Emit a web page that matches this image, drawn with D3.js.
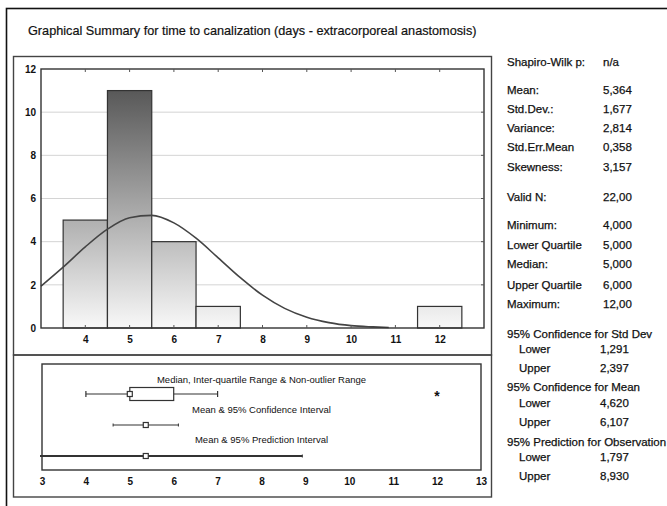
<!DOCTYPE html>
<html><head><meta charset="utf-8">
<script src="https://cdn.jsdelivr.net/npm/d3@7"></script>
<style>
html,body{margin:0;padding:0;background:#fff;}
text{font-family:"Liberation Sans",Arial,sans-serif;fill:#111;}
</style></head><body>
<svg id="c" width="667" height="506"></svg>
<script>
// ---- data ----
const title = "Graphical Summary for time to canalization (days - extracorporeal anastomosis)";
const binCenters = [4, 5, 6, 7, 12];
const binCounts = [5, 11, 4, 1, 1];
const binWidth = 1;
const curveX = [3, 3.5, 4, 4.5, 5, 5.5, 6, 6.5, 7, 7.5, 8, 8.5, 9, 9.5, 10, 10.5, 10.85];
const curveY = [1.94, 2.82, 3.76, 4.58, 5.11, 5.22, 4.87, 4.16, 3.25, 2.33, 1.52, 0.91, 0.50, 0.25, 0.11, 0.05, 0.02];
const yTicks = [0, 2, 4, 6, 8, 10, 12];
const histXTicks = [4, 5, 6, 7, 8, 9, 10, 11, 12];
const boxXTicks = [3, 4, 5, 6, 7, 8, 9, 10, 11, 12, 13];
const boxStats = {min: 4, q1: 5, median: 5, q3: 6, max: 7};
const outliers = [12];
const meanVal = 5.364;
const ciMean = [4.620, 6.107];
const piObs = [1.797, 8.930];
const intervalLabels = ["Median, Inter-quartile Range & Non-outlier Range", "Mean & 95% Confidence Interval", "Mean & 95% Prediction Interval"];
const statLabels = ["Shapiro-Wilk p:", "Mean:", "Std.Dev.:", "Variance:", "Std.Err.Mean", "Skewness:", "Valid N:", "Minimum:", "Lower Quartile", "Median:", "Upper Quartile", "Maximum:"];
const statValues = ["n/a", "5,364", "1,677", "2,814", "0,358", "3,157", "22,00", "4,000", "5,000", "5,000", "6,000", "12,00"];
const ciHeaders = ["95% Confidence for Std Dev", "95% Confidence for Mean", "95% Prediction for Observation"];
const ciSubLabels = ["Lower", "Upper"];
const ciValues = [["1,291", "2,397"], ["4,620", "6,107"], ["1,797", "8,930"]];

// ---- layout ----
const svg = d3.select("#c");
const H = {l: 41, r: 484, t: 69, b: 328};
const B = {l: 42, r: 481, t: 364, b: 470};

// outer frame
svg.append("rect").attr("x", 6.5).attr("y", 8.5).attr("width", 700).attr("height", 600)
  .attr("fill", "none").attr("stroke", "#111").attr("stroke-width", 1.6);
svg.append("text").attr("x", 28).attr("y", 35).attr("font-size", 12.7)
  .attr("stroke", "#111").attr("stroke-width", 0.2).text(title);

// panels
svg.append("rect").attr("x", 13.5).attr("y", 56.5).attr("width", 478).attr("height", 298.5)
  .attr("fill", "none").attr("stroke", "#444").attr("stroke-width", 1.4);
svg.append("rect").attr("x", 13.5).attr("y", 355).attr("width", 478).attr("height", 142)
  .attr("fill", "none").attr("stroke", "#444").attr("stroke-width", 1.4);

// ---- histogram ----
const x = d3.scaleLinear().domain([3, 13]).range([H.l, H.r]);
const y = d3.scaleLinear().domain([0, 12]).range([H.b, H.t]);

const defs = svg.append("defs");
const grad = defs.append("linearGradient").attr("id", "g").attr("gradientUnits", "userSpaceOnUse")
  .attr("x1", 0).attr("x2", 0).attr("y1", y(12)).attr("y2", y(0));
grad.append("stop").attr("offset", 0).attr("stop-color", "#4a4a4a");
grad.append("stop").attr("offset", 1).attr("stop-color", "#f8f8f8");

const gh = svg.append("g");
// grid
gh.selectAll("line.grid").data(yTicks.filter(d => d > 0 && d < 12)).join("line")
  .attr("x1", H.l).attr("x2", H.r).attr("y1", d => y(d)).attr("y2", d => y(d))
  .attr("stroke", "#d4d4d4").attr("stroke-width", 1);

// bars
gh.selectAll("rect.bar").data(binCenters).join("rect")
  .attr("x", (d) => x(d - binWidth / 2))
  .attr("width", (d) => x(d + binWidth / 2) - x(d - binWidth / 2))
  .attr("y", (d, i) => y(binCounts[i]))
  .attr("height", (d, i) => y(0) - y(binCounts[i]))
  .attr("fill", "url(#g)").attr("stroke", "#333").attr("stroke-width", 1.2);

// normal curve
const line = d3.line().x((d, i) => x(curveX[i])).y(d => y(d)).curve(d3.curveMonotoneX);
gh.append("path").attr("d", line(curveY)).attr("fill", "none").attr("stroke", "#444").attr("stroke-width", 1.6);

// frame
gh.append("rect").attr("x", H.l).attr("y", H.t).attr("width", H.r - H.l).attr("height", H.b - H.t)
  .attr("fill", "none").attr("stroke", "#333").attr("stroke-width", 1.4);

const tickFont = sel => sel.attr("font-size", 10).attr("font-weight", "bold")
  .attr("font-family", "Liberation Sans, Arial, sans-serif").attr("fill", "#222");
// axes
const ya = gh.append("g").attr("transform", `translate(${H.l},0)`)
  .call(d3.axisLeft(y).tickValues(yTicks).tickSize(0).tickPadding(5));
ya.select(".domain").remove();
ya.selectAll("text").call(tickFont);
gh.selectAll("line.rt").data(yTicks.filter(d => d > 0 && d < 12)).join("line")
  .attr("x1", H.r - 3).attr("x2", H.r).attr("y1", d => y(d)).attr("y2", d => y(d)).attr("stroke", "#555");
const xa = gh.append("g").attr("transform", `translate(0,${H.b})`)
  .call(d3.axisBottom(x).tickValues(histXTicks).tickSize(0).tickPadding(8));
xa.select(".domain").remove();
xa.selectAll("text").call(tickFont);
gh.selectAll("line.tt").data(histXTicks).join("line")
  .attr("x1", d => x(d)).attr("x2", d => x(d)).attr("y1", H.t).attr("y2", H.t + 3).attr("stroke", "#555");
gh.selectAll("line.bt").data(histXTicks).join("line")
  .attr("x1", d => x(d)).attr("x2", d => x(d)).attr("y1", H.b).attr("y2", H.b - 3).attr("stroke", "#555");

// ---- interval plot ----
const xb = d3.scaleLinear().domain([3, 13]).range([B.l, B.r]);
const gb = svg.append("g");
defs.append("clipPath").attr("id", "bc").append("rect").attr("x", B.l - 2).attr("y", B.t).attr("width", B.r - B.l + 4).attr("height", B.b - B.t);
gb.append("rect").attr("x", B.l).attr("y", B.t).attr("width", B.r - B.l).attr("height", B.b - B.t)
  .attr("fill", "none").attr("stroke", "#333").attr("stroke-width", 1.4);
const xba = gb.append("g").attr("transform", `translate(0,${B.b})`)
  .call(d3.axisBottom(xb).tickValues(boxXTicks).tickSize(0).tickPadding(8));
xba.select(".domain").remove();
xba.selectAll("text").call(tickFont);

const labelX = xb(8);
const rowY = [394, 425, 456];
const labY = [382.5, 412.5, 442.5];
intervalLabels.forEach((t, i) => {
  gb.append("text").attr("x", labelX).attr("y", labY[i]).attr("text-anchor", "middle").attr("font-size", 9.5).text(t);
});
const ink = "#333";
// box plot
gb.append("line").attr("x1", xb(boxStats.min)).attr("x2", xb(boxStats.q1)).attr("y1", rowY[0]).attr("y2", rowY[0]).attr("stroke", ink).attr("stroke-width", 1.2);
gb.append("line").attr("x1", xb(boxStats.q3)).attr("x2", xb(boxStats.max)).attr("y1", rowY[0]).attr("y2", rowY[0]).attr("stroke", ink).attr("stroke-width", 1.2);
[boxStats.min, boxStats.max].forEach(v => gb.append("line").attr("x1", xb(v)).attr("x2", xb(v)).attr("y1", rowY[0] - 3).attr("y2", rowY[0] + 3).attr("stroke", ink).attr("stroke-width", 1.2));
gb.append("rect").attr("x", xb(boxStats.q1)).attr("y", rowY[0] - 6.5).attr("width", xb(boxStats.q3) - xb(boxStats.q1)).attr("height", 13)
  .attr("fill", "#fff").attr("stroke", ink).attr("stroke-width", 1.2);
gb.append("rect").attr("x", xb(boxStats.median) - 2.5).attr("y", rowY[0] - 2.5).attr("width", 5).attr("height", 5)
  .attr("fill", "#fff").attr("stroke", ink).attr("stroke-width", 1.2);
outliers.forEach(v => gb.append("text").attr("x", xb(v)).attr("y", rowY[0] + 7).attr("text-anchor", "middle").attr("font-size", 14).attr("font-weight", "bold").text("*"));
// mean intervals
const cg = gb.append("g").attr("clip-path", "url(#bc)");
[[ciMean, 1], [piObs, 2]].forEach(([iv, k]) => {
  cg.append("line").attr("x1", xb(iv[0])).attr("x2", xb(iv[1])).attr("y1", rowY[k]).attr("y2", rowY[k]).attr("stroke", ink).attr("stroke-width", k === 2 ? 1.8 : 1.2);
  iv.forEach(v => cg.append("line").attr("x1", xb(v)).attr("x2", xb(v)).attr("y1", rowY[k] - 1.5).attr("y2", rowY[k] + 1.5).attr("stroke", ink));
  cg.append("rect").attr("x", xb(meanVal) - 2.5).attr("y", rowY[k] - 2.5).attr("width", 5).attr("height", 5)
    .attr("fill", "#fff").attr("stroke", ink).attr("stroke-width", 1.2);
});

// ---- stats ----
const gs = svg.append("g").attr("font-size", 11.5).attr("stroke", "#111").attr("stroke-width", 0.25);
const statY = [62, 90, 109, 128, 147, 167, 197, 225, 245, 264, 285, 304];
statLabels.forEach((t, i) => {
  gs.append("text").attr("x", 507).attr("y", statY[i] + 4).text(t);
  gs.append("text").attr("x", 603).attr("y", statY[i] + 4).text(statValues[i]);
});
const hdrY = [334, 387, 442];
const subY = [[349, 368], [403, 422], [457, 476]];
ciHeaders.forEach((h, i) => {
  gs.append("text").attr("x", 507).attr("y", hdrY[i] + 4).text(h);
  ciSubLabels.forEach((s, j) => {
    gs.append("text").attr("x", 519).attr("y", subY[i][j] + 4).text(s);
    gs.append("text").attr("x", 600).attr("y", subY[i][j] + 4).text(ciValues[i][j]);
  });
});
</script></body></html>
